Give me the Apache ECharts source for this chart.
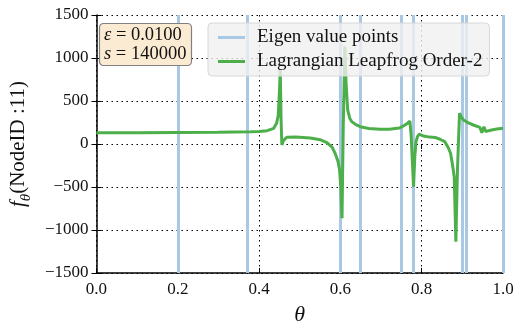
<!DOCTYPE html>
<html>
<head>
<meta charset="utf-8">
<script src="https://cdn.jsdelivr.net/npm/echarts@6/dist/echarts.min.js"></script>
<style>
  html, body { margin: 0; padding: 0; background: #fff; }
  #chart { width: 522px; height: 334px; }
</style>
</head>
<body>
<div id="chart"></div>
<script>
// eigen values (vertical lines)
var eigenPoints = [0.202, 0.368, 0.604, 0.649, 0.751, 0.782, 0.898, 0.913, 1.0];

// green curve
var theta = [0.00, 0.10, 0.20, 0.30, 0.38, 0.40, 0.42, 0.436, 0.443, 0.447, 0.450, 0.452, 0.454, 0.456,
  0.460, 0.468, 0.49, 0.526, 0.55, 0.567, 0.58, 0.587, 0.594, 0.598, 0.601, 0.604, 0.607, 0.611, 0.614,
  0.618, 0.623, 0.628, 0.638, 0.649, 0.67, 0.698, 0.72, 0.745, 0.759, 0.766, 0.771, 0.774, 0.777, 0.780,
  0.783, 0.786, 0.790, 0.794, 0.804, 0.82, 0.833, 0.845, 0.857, 0.865, 0.871, 0.876, 0.880, 0.884, 0.888,
  0.893, 0.898, 0.903, 0.915, 0.927, 0.943, 0.948, 0.953, 0.958, 0.965, 0.972, 0.985, 1.000];
var fTheta = [130, 132, 135, 138, 142, 145, 155, 182, 240, 330, 600, 870, 300, -12,
  40, 78, 82, 70, 50, 15, -40, -108, -200, -302, -500, -864, 200, 1132, 700,
  395, 300, 260, 225, 201, 180, 171, 172, 185, 221, 245, 267, 100, -200, -497,
  -150, 27, 90, 116, 93, 80, 76, 55, 27, -40, -108, -250, -380, -1136, -300,
  357, 310, 279, 245, 221, 194, 131, 201, 143, 155, 163, 175, 183];

var font = "'Liberation Serif', 'DejaVu Serif', serif";
var blue = "#a9c8e3";
var green = "#4daf4a";

var chart = echarts.init(document.getElementById("chart"));

var curve = theta.map(function (t, i) { return [t, fTheta[i]]; });
var minus = function (v) { return String(v).replace("-", "\u2212"); };

var split = { show: true, lineStyle: { color: "#000", width: 1, type: [1.5, 3.5] } };
var tick = { show: true, inside: true, length: 5, lineStyle: { color: "#000", width: 1 } };

var option = {
  animation: false,
  backgroundColor: "#fff",
  grid: { left: 96, right: 19, top: 15, bottom: 61 },
  title: {
    text: "{i|ε} = 0.0100\n{i|s} = 140000",
    left: 99, top: 23,
    padding: [3, 5, 2, 5],
    backgroundColor: "#fcebd3",
    borderColor: "#808080",
    borderWidth: 1.2,
    borderRadius: 4,
    z: 10,
    textStyle: {
      fontFamily: font, fontSize: 18.5, fontWeight: "normal", color: "#111", lineHeight: 19,
      rich: { i: { fontFamily: font, fontSize: 18.5, fontStyle: "italic", color: "#111" } }
    }
  },
  legend: {
    orient: "vertical",
    left: 208, top: 23,
    padding: [5, 7, 5, 10],
    itemGap: 5,
    itemWidth: 27, itemHeight: 3,
    z: 10,
    backgroundColor: "rgba(240,240,240,0.8)",
    borderColor: "#d8d8d8",
    borderWidth: 1,
    borderRadius: 4,
    textStyle: { fontFamily: font, fontSize: 19, color: "#111", padding: [0, 0, 0, 7] },
    data: [
      { name: "Eigen value points", icon: "rect" },
      { name: "Lagrangian Leapfrog Order-2", icon: "rect" }
    ]
  },
  xAxis: [{
    type: "value", min: 0, max: 1, interval: 0.2,
    name: "θ", nameLocation: "middle", nameGap: 31,
    nameTextStyle: { fontFamily: font, fontSize: 22, fontStyle: "italic", color: "#111" },
    axisLine: { show: true, onZero: false, lineStyle: { color: "#000", width: 1.5 } },
    axisTick: tick,
    axisLabel: { fontFamily: font, fontSize: 17, color: "#111", margin: 8,
      formatter: function (v) { return v.toFixed(1); } },
    splitLine: split
  }, {
    type: "value", min: 0, max: 1, interval: 0.2, position: "top",
    axisLine: { show: false }, axisTick: tick, axisLabel: { show: false }, splitLine: { show: false }
  }],
  yAxis: [{
    type: "value", min: -1500, max: 1500, interval: 500,
    name: "{i|f}{s|θ}(NodeID :11)", nameLocation: "middle", nameGap: 62,
    nameTextStyle: {
      fontFamily: font, fontSize: 21, color: "#111",
      rich: {
        i: { fontFamily: font, fontSize: 21, fontStyle: "italic", color: "#111" },
        s: { fontFamily: font, fontSize: 15, fontStyle: "italic", color: "#111", verticalAlign: "bottom", padding: [0, 0, -5, 0] }
      }
    },
    axisLine: { show: true, onZero: false, lineStyle: { color: "#000", width: 1.5 } },
    axisTick: tick,
    axisLabel: { fontFamily: font, fontSize: 17, color: "#111", margin: 8, formatter: minus },
    splitLine: split
  }, {
    type: "value", min: -1500, max: 1500, interval: 500, position: "right",
    axisLine: { show: false }, axisTick: tick, axisLabel: { show: false }, splitLine: { show: false }
  }],
  series: [{
    name: "Eigen value points",
    type: "line",
    data: [],
    color: blue,
    symbol: "none",
    z: 1,
    markLine: {
      silent: true,
      z: 1,
      symbol: "none",
      label: { show: false },
      lineStyle: { color: blue, width: 3, type: "solid" },
      data: eigenPoints.map(function (x) { return { xAxis: x }; })
    }
  }, {
    name: "Lagrangian Leapfrog Order-2",
    type: "line",
    data: curve,
    color: green,
    symbol: "none",
    lineStyle: { color: green, width: 3 },
    z: 3
  }]
};

chart.setOption(option);
</script>
</body>
</html>
